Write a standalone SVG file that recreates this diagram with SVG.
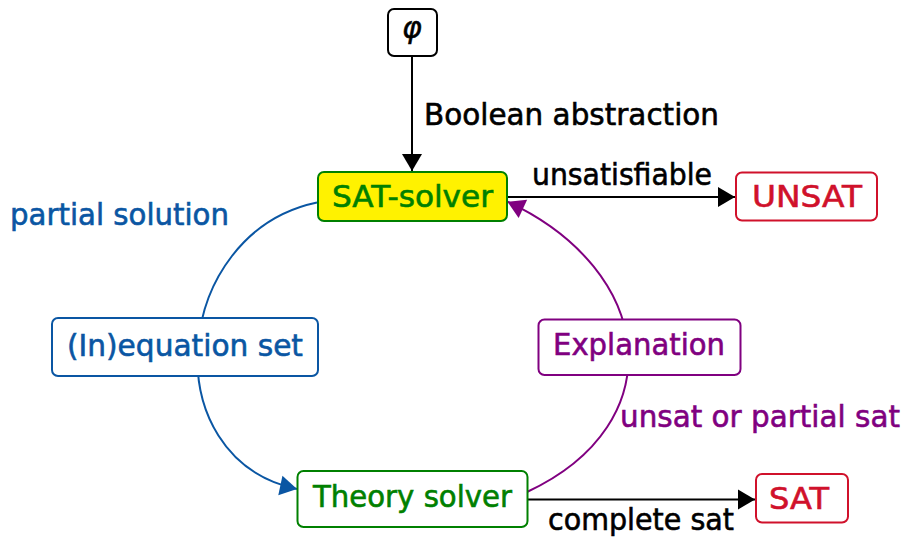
<svg xmlns="http://www.w3.org/2000/svg" width="904" height="538" viewBox="0 0 904 538">
<style>
  text { font-family: "DejaVu Sans", "Liberation Sans", sans-serif; font-size: 30px; stroke-width: 0.6; }
  .box { stroke-width: 2; fill: #ffffff; }
  .edge { fill: none; stroke-width: 2; }
  .k { fill: #000000; stroke: #000000; }
  .g { fill: #008000; stroke: #008000; }
  .b { fill: #0a56a3; stroke: #0a56a3; }
  .r { fill: #d0112b; stroke: #d0112b; }
  .p { fill: #800080; stroke: #800080; }
</style>
<defs>
  <marker id="ahK" markerUnits="userSpaceOnUse" markerWidth="18" markerHeight="20" refX="17" refY="10" orient="auto" overflow="visible">
    <path d="M0,0 L17,10 L0,20 Z" fill="#000000"/>
  </marker>
  <marker id="ahB" markerUnits="userSpaceOnUse" markerWidth="18" markerHeight="20" refX="17" refY="10" orient="auto" overflow="visible">
    <path d="M0,0 L17,10 L0,20 Z" fill="#0a56a3"/>
  </marker>
  <marker id="ahP" markerUnits="userSpaceOnUse" markerWidth="18" markerHeight="20" refX="17" refY="10" orient="auto" overflow="visible">
    <path d="M0,0 L17,10 L0,20 Z" fill="#800080"/>
  </marker>
</defs>

<g id="connectors">
  <path class="edge" stroke="#000000" d="M412,56 L412,171" marker-end="url(#ahK)"/>
  <path class="edge" stroke="#000000" d="M507,197 L735,197" marker-end="url(#ahK)"/>
  <path class="edge" stroke="#000000" d="M527,499.5 L755,499.5" marker-end="url(#ahK)"/>
  <path class="edge" stroke="#0a56a3" d="M317,202.5 C171.7,232.9 151.7,458.1 297,489" marker-end="url(#ahB)"/>
  <path class="edge" stroke="#800080" d="M527,492 C674.7,423.1 655,270.7 507.5,201.7" marker-end="url(#ahP)"/>
  <text class="k" x="424" y="125" textLength="295" lengthAdjust="spacingAndGlyphs">Boolean abstraction</text>
  <text class="k" x="532" y="185" textLength="180" lengthAdjust="spacingAndGlyphs">unsatisfiable</text>
  <text class="b" x="10" y="225" textLength="219" lengthAdjust="spacingAndGlyphs">partial solution</text>
  <text class="p" x="620" y="427" textLength="280" lengthAdjust="spacingAndGlyphs">unsat or partial sat</text>
  <text class="k" x="548" y="530" textLength="186" lengthAdjust="spacingAndGlyphs">complete sat</text>
</g>

<g id="phi">
  <rect class="box" x="388" y="9" width="49" height="47" rx="6" stroke="#000000"/>
  <text x="412" y="38" text-anchor="middle" style="font-family: 'DejaVu Sans', sans-serif; font-style: italic; font-size: 30px; stroke: #000000; stroke-width: 0.5;" fill="#000000">φ</text>
</g>

<g id="sat-solver">
  <rect x="318" y="172" width="189" height="49" rx="6" fill="#fff200" stroke="#008000" stroke-width="2"/>
  <text class="g" x="332" y="207" textLength="161" lengthAdjust="spacingAndGlyphs">SAT-solver</text>
</g>

<g id="unsat">
  <rect class="box" x="736" y="172.5" width="141" height="48" rx="6" stroke="#d0112b"/>
  <text class="r" x="752" y="207" textLength="110" lengthAdjust="spacingAndGlyphs">UNSAT</text>
</g>

<g id="inequation-set">
  <rect class="box" x="52" y="318" width="266" height="58" rx="6" stroke="#0a56a3"/>
  <text class="b" x="67" y="355.5" textLength="236" lengthAdjust="spacingAndGlyphs">(In)equation set</text>
</g>

<g id="explanation">
  <rect class="box" x="538.5" y="319.5" width="202" height="55.5" rx="6" stroke="#800080"/>
  <text class="p" x="553" y="355" textLength="172" lengthAdjust="spacingAndGlyphs">Explanation</text>
</g>

<g id="theory-solver">
  <rect class="box" x="297.5" y="471" width="230" height="56" rx="6" stroke="#008000"/>
  <text class="g" x="313" y="506.5" textLength="199" lengthAdjust="spacingAndGlyphs">Theory solver</text>
</g>

<g id="sat">
  <rect class="box" x="756" y="474" width="92" height="48.5" rx="6" stroke="#d0112b"/>
  <text class="r" x="769" y="509" textLength="60" lengthAdjust="spacingAndGlyphs">SAT</text>
</g>
</svg>
